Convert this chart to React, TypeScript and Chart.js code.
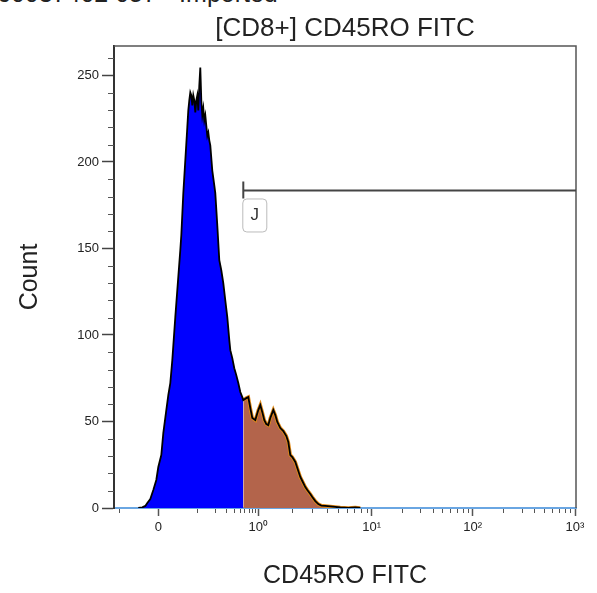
import React, { useEffect, useRef } from 'react';
import { Chart, registerables } from 'chart.js';

Chart.register(...registerables);

const HEADER = '60037402 057 - Imported';
const TITLE = '[CD8+] CD45RO FITC';
const X_TITLE = 'CD45RO FITC';
const Y_TITLE = 'Count';

// biexponential display axis: values are display units (0 -> "0", 1 -> 10^0 ...)
const X_MAJOR_POS = [0, 1, 2.134, 3.144, 4.167];
const X_TICK_LABELS = ['0', '10\u2070', '10\u00B9', '10\u00B2', '10\u00B3'];
const X_MIN = -0.443;
const X_MAX = 4.177;
const Y_TICKS = [0, 50, 100, 150, 200, 250];
const Y_MAX = 267;

const BIN_X = [
  -0.2, -0.16, -0.13, -0.11, -0.08, -0.05, -0.02,
  0.0, 0.03, 0.05, 0.08, 0.1, 0.12, 0.14, 0.17, 0.19,
  0.22, 0.23, 0.25, 0.27, 0.29,
  0.3, 0.31, 0.32, 0.33, 0.34, 0.35, 0.36, 0.37, 0.38, 0.39, 0.4, 0.41, 0.42, 0.43, 0.44, 0.45, 0.46, 0.47, 0.48, 0.49, 0.5, 0.51, 0.52,
  0.54, 0.56, 0.57, 0.59, 0.61, 0.63, 0.65, 0.67, 0.69, 0.71, 0.72, 0.74, 0.76, 0.78, 0.8, 0.82, 0.84, 0.85,
  0.88, 0.9, 0.92, 0.94, 0.97, 1.0, 1.02, 1.04, 1.06, 1.08, 1.1, 1.12, 1.15, 1.17, 1.19, 1.22, 1.25, 1.28,
  1.3, 1.32, 1.34, 1.37, 1.39, 1.42, 1.44, 1.47, 1.49, 1.52, 1.54, 1.57, 1.6, 1.63, 1.67, 1.72, 1.77, 1.82,
  1.9, 1.97, 2.02,
];

const COUNTS = [
  0, 0.4, 1.2, 2.9, 5.2, 10.4, 16.2,
  23.7, 30.6, 43.3, 56.6, 65.2, 72.2, 85.5, 110.3, 125.9,
  149, 157.6, 181.9, 200.9, 220,
  229.8, 235.6, 240.2, 238.5, 232.7, 238.5, 235.6, 228.6, 235.6, 238.5, 229.8, 244.2, 254.6, 235.6, 227, 231, 224, 227, 221, 215, 217, 212.5, 209.6,
  195, 186.5, 182, 163.4, 143.2, 137.4, 129.9, 120, 110.3, 97, 91.2, 86.6, 80.8, 76.8, 72.2, 67, 64.1, 62.4,
  63.5, 64.1, 57.7, 52, 50.8, 56.6, 59.5, 55.4, 50.8, 48.5, 47.9, 52, 56.6, 53.7, 49.7, 46.2, 44.5, 41.6,
  38.1, 30.6, 29.4, 26.6, 23.1, 17.9, 15.6, 12.1, 10.4, 8.1, 6.4, 4.0, 2.3, 1.4, 1.2, 0.9, 0.6, 0.3,
  0, 0.3, 0,
];

const GATE_START = 0.85;
const GATE_LEVEL = 183.5;
const GATE_NAME = 'J';

const FONT = "'Liberation Sans', Arial, Helvetica, sans-serif";

export default function App() {
  const ref = useRef<HTMLCanvasElement>(null);

  useEffect(() => {
    const canvas = ref.current;
    if (!canvas) return;
    const pts = BIN_X.map((x, i) => ({ x, y: COUNTS[i] }));
    const blue = pts.filter((p) => p.x <= GATE_START);
    const brown = pts.filter((p) => p.x >= GATE_START);

    const W = 0.05;
    const lowPos = (v: number) => (Math.asinh(v / W) / Math.asinh(1 / W)) * X_MAJOR_POS[1];
    const xMinor: number[] = [-0.1, 0.1, 0.2, 0.3, 0.4, 0.5, 0.6, 0.7, 0.8, 0.9].map(lowPos);
    for (let d = 1; d < X_MAJOR_POS.length - 1; d++) {
      for (let k = 2; k <= 9; k++) {
        xMinor.push(X_MAJOR_POS[d] + Math.log10(k) * (X_MAJOR_POS[d + 1] - X_MAJOR_POS[d]));
      }
    }
    const yMinor: number[] = [];
    for (let v = 10; v < Y_MAX; v += 10) if (v % 50 !== 0) yMinor.push(v);

    const decor = {
      id: 'fcsDecor',
      afterDraw(chart: any) {
        const { ctx, chartArea: ca, scales } = chart;
        const xs = scales.x;
        const ys = scales.y;
        ctx.save();
        // frame top and right
        ctx.strokeStyle = '#555';
        ctx.lineWidth = 1.5;
        ctx.beginPath();
        ctx.moveTo(ca.left, ca.top);
        ctx.lineTo(ca.right, ca.top);
        ctx.lineTo(ca.right, ca.bottom);
        ctx.stroke();
        // minor ticks
        ctx.strokeStyle = '#555';
        ctx.lineWidth = 1;
        ctx.beginPath();
        for (const v of xMinor) {
          const px = Math.round(xs.getPixelForValue(v)) + 0.5;
          ctx.moveTo(px, ca.bottom + 1);
          ctx.lineTo(px, ca.bottom + 5);
        }
        for (const v of yMinor) {
          const py = Math.round(ys.getPixelForValue(v)) + 0.5;
          ctx.moveTo(ca.left - 6, py);
          ctx.lineTo(ca.left, py);
        }
        ctx.stroke();
        // gate
        const gx = xs.getPixelForValue(GATE_START);
        const gy = ys.getPixelForValue(GATE_LEVEL);
        ctx.strokeStyle = '#444';
        ctx.lineWidth = 2;
        ctx.beginPath();
        ctx.moveTo(gx, gy);
        ctx.lineTo(ca.right, gy);
        ctx.moveTo(gx, gy - 9);
        ctx.lineTo(gx, gy + 8);
        ctx.stroke();
        // gate label box
        const bx = gx - 1;
        const by = gy + 8;
        const bw = 24;
        const bh = 33;
        ctx.fillStyle = '#ffffff';
        ctx.strokeStyle = '#bbbbbb';
        ctx.lineWidth = 1;
        ctx.beginPath();
        if (ctx.roundRect) ctx.roundRect(bx + 0.5, by + 0.5, bw, bh, 4);
        else ctx.rect(bx + 0.5, by + 0.5, bw, bh);
        ctx.fill();
        ctx.stroke();
        ctx.fillStyle = '#333';
        ctx.font = `17px ${FONT}`;
        ctx.textAlign = 'center';
        ctx.textBaseline = 'middle';
        ctx.fillText(GATE_NAME, bx + bw / 2 + 0.5, by + bh / 2);
        ctx.restore();
      },
    };

    const chart = new Chart(canvas, {
      type: 'line',
      data: {
        datasets: [
          {
            data: pts,
            borderColor: '#000000',
            borderWidth: 1.8,
            pointRadius: 0,
            fill: false,
            tension: 0,
            order: 0,
          },
          {
            data: brown,
            borderColor: '#e08a18',
            borderWidth: 3.5,
            backgroundColor: '#b3644b',
            pointRadius: 0,
            fill: 'origin',
            tension: 0,
            order: 1,
          },
          {
            data: blue,
            borderColor: '#0000ff',
            borderWidth: 0,
            backgroundColor: '#0000ff',
            pointRadius: 0,
            fill: 'origin',
            tension: 0,
            order: 2,
          },
        ],
      },
      options: {
        responsive: false,
        animation: false,
        devicePixelRatio: 1,
        layout: { padding: { left: 0, right: 21, top: 0, bottom: 0 } },
        plugins: {
          legend: { display: false },
          tooltip: { enabled: false },
          title: {
            display: true,
            fullSize: false,
            text: TITLE,
            color: '#222',
            font: { family: FONT, size: 26, weight: 'normal' },
            padding: { top: 13, bottom: 1.8 },
          },
        },
        scales: {
          x: {
            type: 'linear',
            min: X_MIN,
            max: X_MAX,
            z: 1,
            afterBuildTicks: (s: any) => {
              s.ticks = X_MAJOR_POS.map((v) => ({ value: v }));
            },
            afterFit: (s: any) => {
              s.height = 85;
            },
            ticks: {
              autoSkip: false,
              maxRotation: 0,
              color: '#222',
              font: { family: FONT, size: 13 },
              padding: 4,
              callback: (_v: any, i: number) => X_TICK_LABELS[i],
            },
            grid: {
              drawOnChartArea: false,
              drawTicks: true,
              tickLength: 8,
              tickColor: '#555',
              tickWidth: 1.5,
            },
            border: { display: true, color: '#6aa6e2', width: 2 },
            title: {
              display: true,
              text: X_TITLE,
              color: '#222',
              font: { family: FONT, size: 25, weight: 'normal' },
              padding: { top: 0, bottom: 2 },
            },
          },
          y: {
            type: 'linear',
            min: 0,
            max: Y_MAX,
            afterBuildTicks: (s: any) => {
              s.ticks = Y_TICKS.map((v) => ({ value: v }));
            },
            afterFit: (s: any) => {
              s.width = 114;
            },
            ticks: {
              color: '#222',
              font: { family: FONT, size: 13 },
              padding: 3,
            },
            grid: {
              drawOnChartArea: false,
              drawTicks: true,
              tickLength: 12,
              tickColor: '#444',
              tickWidth: 1.5,
            },
            border: { display: true, color: '#333', width: 2 },
            title: {
              display: true,
              text: Y_TITLE,
              color: '#222',
              font: { family: FONT, size: 25, weight: 'normal' },
              padding: { top: 15, bottom: 0 },
            },
          },
        },
      },
      plugins: [decor],
    } as any);

    return () => chart.destroy();
  }, []);

  return (
    <div style={{ position: 'absolute', left: 0, top: 0, width: 597, height: 593, overflow: 'hidden', background: '#fff' }}>
      <div
        style={{
          position: 'absolute',
          left: -3,
          top: -21,
          fontFamily: FONT,
          fontSize: 25,
          color: '#222',
          whiteSpace: 'nowrap',
        }}
      >
        {HEADER}
      </div>
      <canvas ref={ref} width={597} height={593} style={{ position: 'absolute', left: 0, top: 0 }} />
    </div>
  );
}
